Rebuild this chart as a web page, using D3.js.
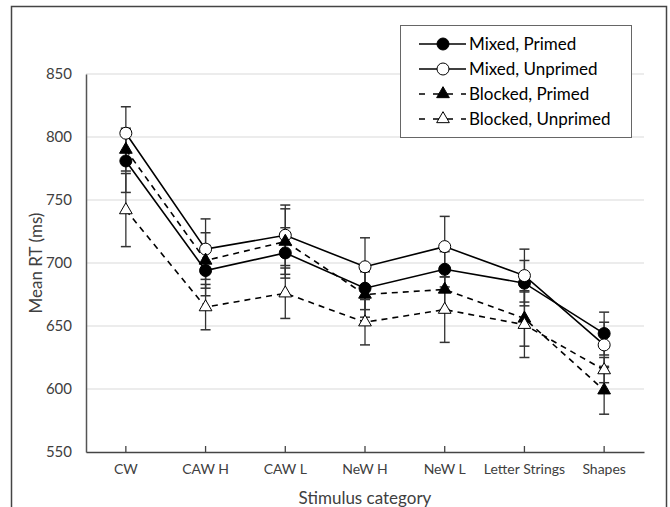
<!DOCTYPE html>
<html><head><meta charset="utf-8">
<script src="https://cdn.jsdelivr.net/npm/d3@7"></script>
<style>body{margin:0;background:#fff}svg{display:block}text{font-family:Lato,'Open Sans',sans-serif}</style>
</head><body>
<svg id="c" width="670" height="507"></svg>
<script>
const categories = ["CW","CAW H","CAW L","NeW H","NeW L","Letter Strings","Shapes"];
const seriesNames = ["Mixed, Primed","Mixed, Unprimed","Blocked, Primed","Blocked, Unprimed"];
const mixedPrimed     = [781, 694, 708, 680, 695, 684, 644];
const mixedUnprimed   = [803, 711, 722, 697, 713, 690, 635];
const blockedPrimed   = [790, 702, 717, 675, 679, 656, 599];
const blockedUnprimed = [742, 665, 676, 653, 663, 651, 615];
const errMixedPrimed     = [25, 20, 20, 17, 14, 18, 17];
const errMixedUnprimed   = [21, 24, 24, 23, 24, 21, 18];
const errBlockedPrimed   = [17, 22, 26, 18, 16, 22, 19];
const errBlockedUnprimed = [29, 18, 20, 18, 26, 26, 10];
const yTicks = [550,600,650,700,750,800,850];

const series = [
  {name:seriesNames[0], v:mixedPrimed, e:errMixedPrimed, shape:"circle", fill:"#000", dash:null},
  {name:seriesNames[1], v:mixedUnprimed, e:errMixedUnprimed, shape:"circle", fill:"#fff", dash:null},
  {name:seriesNames[2], v:blockedPrimed, e:errBlockedPrimed, shape:"triangle", fill:"#000", dash:"6,5"},
  {name:seriesNames[3], v:blockedUnprimed, e:errBlockedUnprimed, shape:"triangle", fill:"#fff", dash:"6,5"}
];

const svg = d3.select("#c");
// outer frame
svg.append("rect").attr("x",11.5).attr("y",6.5).attr("width",655).attr("height",520)
  .attr("fill","none").attr("stroke","#444").attr("stroke-width",1.5);

const L=86, R=644, T=74, B=452;
const x = d3.scaleBand().domain(categories).range([L,R]);
const y = d3.scaleLinear().domain([550,850]).range([B,T]);
const cx = c => x(c)+x.bandwidth()/2;

// gridlines
svg.append("g").selectAll("line").data(yTicks.slice(1)).join("line")
  .attr("x1",L).attr("x2",R).attr("y1",d=>y(d)).attr("y2",d=>y(d))
  .attr("stroke","#d9d9d9").attr("stroke-width",1);

// y axis
const ya = svg.append("g").attr("transform",`translate(${L},0)`)
  .call(d3.axisLeft(y).tickValues(yTicks).tickSize(0).tickPadding(14));
ya.select(".domain").attr("stroke","#555").attr("stroke-width",1.5);
ya.selectAll("text").attr("font-size",15).attr("fill","#404040").style("font-family","Lato,sans-serif");

// x axis
const xa = svg.append("g").attr("transform",`translate(0,${B})`)
  .call(d3.axisBottom(x).tickSizeInner(-6).tickSizeOuter(0).tickPadding(12));
xa.select(".domain").attr("stroke","#444").attr("stroke-width",1.5);
xa.selectAll(".tick line").attr("stroke","#444").attr("stroke-width",1.3);
xa.selectAll("text").attr("font-size",14).attr("fill","#404040").style("font-family","Lato,sans-serif");

// axis titles
svg.append("text").attr("transform",`translate(42,${(T+B)/2}) rotate(-90)`)
  .attr("text-anchor","middle").attr("font-size",17).attr("fill","#404040").text("Mean RT (ms)");
svg.append("text").attr("x",365).attr("y",504).attr("text-anchor","middle")
  .attr("font-size",17).attr("fill","#404040").text("Stimulus category");

// error bars
const eg = svg.append("g");
series.forEach(s=>{
  categories.forEach((c,i)=>{
    const X=cx(c), y1=y(s.v[i]+s.e[i]), y2=y(s.v[i]-s.e[i]);
    eg.append("line").attr("x1",X).attr("x2",X).attr("y1",y1).attr("y2",y2).attr("stroke","#333").attr("stroke-width",1.3);
    [y1,y2].forEach(yy=>eg.append("line").attr("x1",X-5).attr("x2",X+5).attr("y1",yy).attr("y2",yy).attr("stroke","#333").attr("stroke-width",1.5));
  });
});

// lines
const line = d3.line().x((d,i)=>cx(categories[i])).y(d=>y(d));
series.forEach(s=>{
  svg.append("path").datum(s.v).attr("d",line).attr("fill","none").attr("stroke","#000")
    .attr("stroke-width",1.6).attr("stroke-dasharray",s.dash);
});

// markers
const tri = d3.symbol().type(d3.symbolTriangle).size(70);
function marker(g, s, X, Y){
  if(s.shape==="circle"){
    g.append("circle").attr("cx",X).attr("cy",Y).attr("r",6).attr("fill",s.fill).attr("stroke","#000").attr("stroke-width",1);
  } else {
    g.append("path").attr("d",tri()).attr("transform",`translate(${X},${Y})`).attr("fill",s.fill).attr("stroke","#000").attr("stroke-width",1);
  }
}
const mg = svg.append("g");
series.forEach(s=>categories.forEach((c,i)=>marker(mg,s,cx(c),y(s.v[i]))));

// legend
const lg = svg.append("g");
lg.append("rect").attr("x",400.5).attr("y",25.5).attr("width",231).attr("height",112)
  .attr("fill","#fff").attr("stroke","#666").attr("stroke-width",1);
series.forEach((s,i)=>{
  const yy = 44 + i*25;
  lg.append("line").attr("x1",419).attr("x2",466).attr("y1",yy).attr("y2",yy)
    .attr("stroke","#000").attr("stroke-width",1.6).attr("stroke-dasharray",s.dash? "6,8":null)
    .attr("stroke-dashoffset", s.dash? 0 : null);
  marker(lg,s,443,yy);
  lg.append("text").attr("x",469).attr("y",yy).attr("dy","0.35em").attr("font-size",17)
    .attr("fill","#000").text(s.name);
});
</script>
</body></html>
